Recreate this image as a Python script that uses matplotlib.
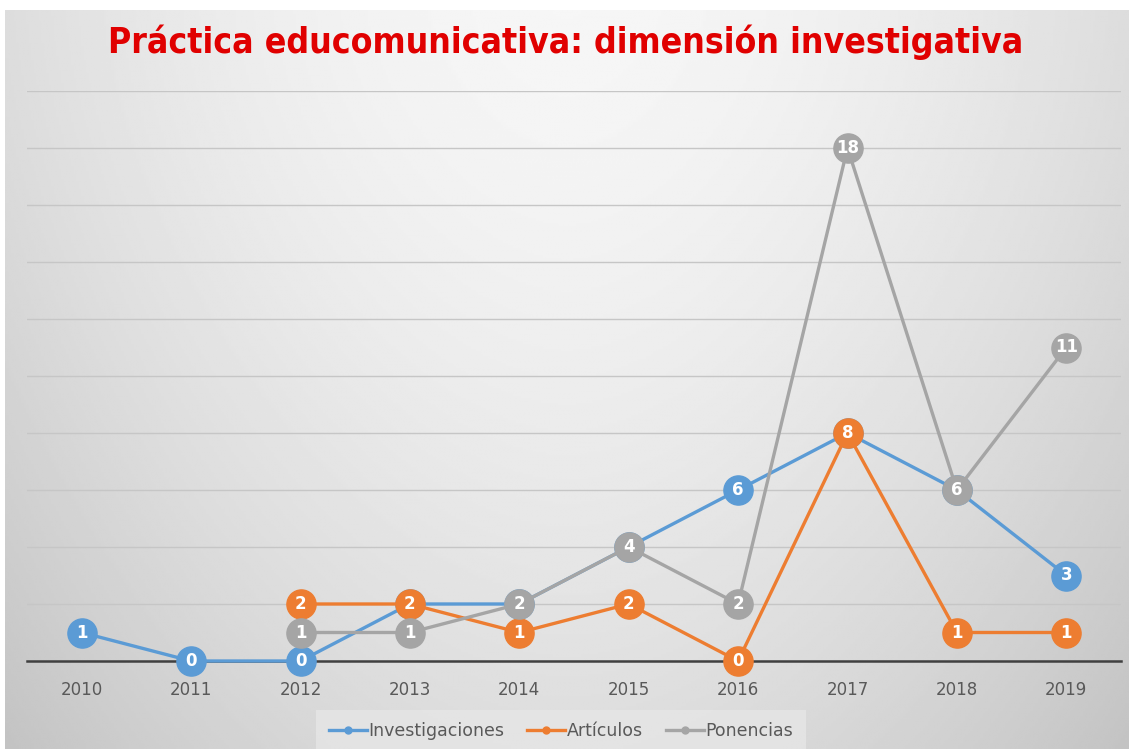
import numpy as np
import matplotlib.pyplot as plt

years = ["2010", "2011", "2012", "2013", "2014", "2015", "2016", "2017", "2018", "2019"]
investigaciones = [1, 0, 0, 2, 2, 4, 6, 8, 6, 3]
articulos = [None, None, 2, 2, 1, 2, 0, 8, 1, 1]
ponencias = [None, None, 1, 1, 2, 4, 2, 18, 6, 11]

series_names = ["Investigaciones", "Artículos", "Ponencias"]
series_vals = [investigaciones, articulos, ponencias]
colors = ["#5B9BD5", "#ED7D31", "#A5A5A5"]

W, H = 1129, 749
fig = plt.figure(figsize=(W / 100, H / 100), dpi=100)
fig.patch.set_facecolor("white")

# grey background, light in the upper middle, darker to the sides and bottom
bg = fig.add_axes([5 / W, 0, 1 - 5 / W, 1 - 10 / H], zorder=-5)
yy, xx = np.mgrid[-1:1:300j, -1:1:450j]
t = (yy + 1) / 2
shade = 0.965 - 0.10 * np.abs(xx) ** 1.8 - 0.10 * t ** 1.5
bg.imshow(shade, cmap="gray", vmin=0, vmax=1, aspect="auto", interpolation="bilinear")
bg.axis("off")

ax = fig.add_axes([27 / W, 1 - 661 / H, (1121 - 27) / W, (661 - 91) / H])
ax.set_facecolor("none")
x = np.arange(len(years))
ax.set_xlim(-0.5, len(years) - 0.5)
ax.set_ylim(0, 20)
ax.set_yticks(range(0, 21, 2))
ax.yaxis.grid(True, color="#c6c6c6", lw=1)
ax.set_axisbelow(True)
ax.tick_params(left=False, labelleft=False, bottom=False, labelsize=12, labelcolor="#595959", pad=11)
ax.set_xticks(x)
ax.set_xticklabels(years)
for s in ["top", "right", "left"]:
    ax.spines[s].set_visible(False)
ax.spines["bottom"].set_color("#404040")
ax.spines["bottom"].set_linewidth(1.8)
ax.spines["bottom"].set_zorder(1)

for i in range(len(series_names)):
    vals = series_vals[i]
    xs = [x[j] for j in range(len(vals)) if vals[j] is not None]
    ys = [vals[j] for j in range(len(vals)) if vals[j] is not None]
    ax.plot(xs, ys, color=colors[i], lw=2.4, marker="o", ms=21, zorder=3 + i * 2,
            clip_on=False)
    for a, b in zip(xs, ys):
        ax.text(a, b, str(b), color="white", fontsize=12, fontweight="bold",
                ha="center", va="center", zorder=4 + i * 2)

# legend with small markers
handles = [plt.Line2D([], [], color=c, lw=2.4, marker="o", ms=5) for c in colors]
leg = fig.legend(handles, series_names, loc="center", bbox_to_anchor=(561 / W, 1 - 731 / H),
                 ncol=3, frameon=True, fontsize=12.5, handlelength=2.2, handletextpad=0.1,
                 columnspacing=1.3, borderpad=0.4)
leg.get_frame().set_facecolor("#e6e6e6")
leg.get_frame().set_edgecolor("none")
leg.get_frame().set_boxstyle("square", pad=0.3)
for t in leg.get_texts():
    t.set_color("#595959")

fig.text(566 / W, 1 - 42 / H, "Práctica educomunicativa: dimensión investigativa",
         ha="center", va="center", color="#E00000", fontsize=25.5, fontweight="bold",
         family="DejaVu Sans", fontstretch="condensed")

fig.savefig("out.png", dpi=100)
